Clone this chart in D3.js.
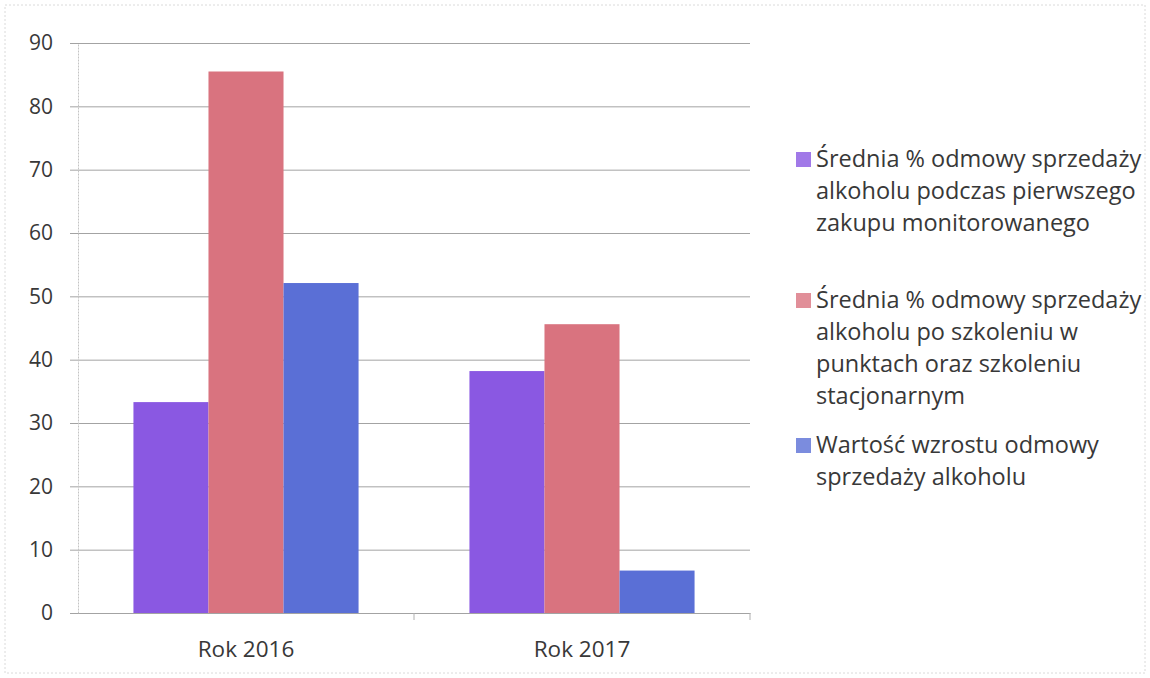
<!DOCTYPE html>
<html>
<head>
<meta charset="utf-8">
<script src="https://cdn.jsdelivr.net/npm/d3@7"></script>
<style>
  body { margin: 0; background: #fff; }
  text { font-family: "Open Sans", Lato, sans-serif; fill: #383838; }
</style>
</head>
<body>
<svg id="chart" width="1150" height="678"></svg>
<script>
// categories and series
const years = ['Rok 2016', 'Rok 2017'];
const seriesNames = [
  'Średnia % odmowy sprzedaży alkoholu podczas pierwszego zakupu monitorowanego',
  'Średnia % odmowy sprzedaży alkoholu po szkoleniu w punktach oraz szkoleniu stacjonarnym',
  'Wartość wzrostu odmowy sprzedaży alkoholu'
];
// legend text as wrapped in the picture
const legendLines = [
  ['Średnia % odmowy sprzedaży', 'alkoholu podczas pierwszego', 'zakupu monitorowanego'],
  ['Średnia % odmowy sprzedaży', 'alkoholu po szkoleniu w', 'punktach oraz szkoleniu', 'stacjonarnym'],
  ['Wartość wzrostu odmowy', 'sprzedaży alkoholu']
];
const firstPurchase = [33.3, 38.2];
const afterTraining = [85.5, 45.6];
const increase = [52.1, 6.7];
const yTicks = [0, 10, 20, 30, 40, 50, 60, 70, 80, 90];
const colors = ['#8a58e2', '#d9737f', '#5a6fd6'];

const series = [firstPurchase, afterTraining, increase];

const svg = d3.select('#chart');
const margin = { top: 43, left: 78, right: 400, bottom: 65 };
const W = 1150, H = 678;
const plotW = W - margin.left - margin.right;
const plotH = H - margin.top - margin.bottom;

// faint outer frame of the scanned page
svg.append('rect')
  .attr('x', 5).attr('y', 5).attr('width', W - 10).attr('height', H - 10)
  .attr('fill', 'none').attr('stroke', '#dadada').attr('stroke-dasharray', '2 2');

const g = svg.append('g').attr('transform', `translate(${margin.left},${margin.top})`);

const y = d3.scaleLinear().domain([0, 90]).range([plotH, 0]);
const x0 = d3.scaleBand().domain(years).range([0, plotW]).paddingInner(0.33).paddingOuter(0.165);
const x1 = d3.scaleBand().domain(d3.range(3)).range([0, x0.bandwidth()]);

// gridlines
g.append('g')
  .call(d3.axisLeft(y).tickValues(yTicks).tickSize(-plotW).tickSizeOuter(0).tickFormat(''))
  .call(a => a.select('.domain').remove())
  .call(a => a.selectAll('line').attr('stroke', '#a3a3a3').attr('stroke-width', 1).attr('x1', -8));

// y axis labels
g.append('g')
  .call(d3.axisLeft(y).tickValues(yTicks).tickSize(0).tickPadding(25))
  .call(a => a.select('.domain').attr('stroke', '#c4c4c4').attr('stroke-dasharray', '2 1'))
  .call(a => a.selectAll('text').attr('font-size', 21).attr('fill', '#383838')
    .style('font-family', '"Open Sans", sans-serif'));

// bars
const grp = g.selectAll('.grp').data(years).join('g')
  .attr('transform', d => `translate(${x0(d)},0)`);
grp.selectAll('rect')
  .data((d, i) => series.map((s, k) => ({ k, v: s[i] })))
  .join('rect')
  .attr('x', d => x1(d.k))
  .attr('width', x1.bandwidth())
  .attr('y', d => y(d.v))
  .attr('height', d => plotH - y(d.v))
  .attr('fill', d => colors[d.k]);

// x axis
const xAxisScale = d3.scaleBand().domain(years).range([0, plotW]);
g.append('g')
  .attr('transform', `translate(0,${plotH})`)
  .call(d3.axisBottom(xAxisScale).tickSize(0).tickPadding(28))
  .call(a => a.select('.domain').attr('stroke', '#a3a3a3'))
  .call(a => a.selectAll('text').attr('font-size', 22.5).attr('fill', '#383838')
    .style('font-family', '"Open Sans", sans-serif'));
g.append('g')
  .attr('transform', `translate(0,${plotH})`)
  .selectAll('line').data([plotW / 2, plotW]).join('line')
  .attr('x1', d => d).attr('x2', d => d).attr('y1', 0).attr('y2', 7)
  .attr('stroke', '#b0b0b0');

// legend
const legendTop = [167, 308, 453];
const lineH = 32;
const lg = svg.append('g').attr('transform', 'translate(796,0)');
legendLines.forEach((lines, k) => {
  lg.append('rect')
    .attr('x', 0).attr('y', legendTop[k] - 15).attr('width', 15).attr('height', 15)
    .attr('fill', colors[k]).attr('opacity', 0.8);
  const t = lg.append('text').attr('x', 20).attr('y', legendTop[k])
    .attr('font-size', 23.5).attr('fill', '#383838');
  lines.forEach((ln, j) => {
    t.append('tspan').attr('x', 20).attr('y', legendTop[k] + j * lineH).text(ln);
  });
});
</script>
</body>
</html>
